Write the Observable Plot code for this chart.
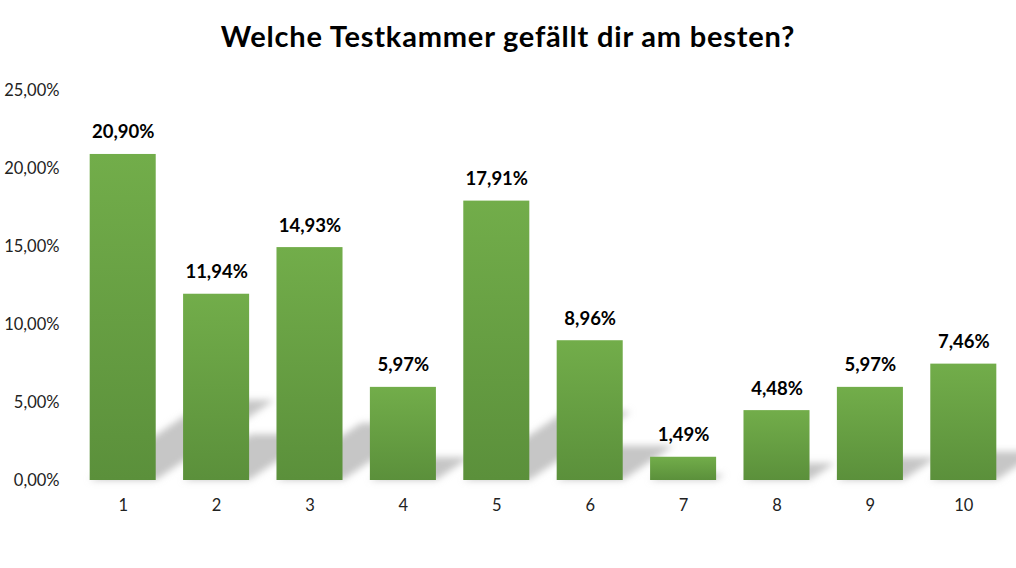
<!DOCTYPE html>
<html>
<head>
<meta charset="utf-8">
<script src="https://cdn.jsdelivr.net/npm/d3@7"></script>
<script src="https://cdn.jsdelivr.net/npm/@observablehq/plot@0.6"></script>
<style>
  html, body { margin: 0; padding: 0; background: #fff; }
  #title {
    width: 1016px; height: 70px; box-sizing: border-box;
    padding-top: 21px; line-height: 30px;
    font-family: Lato, "Open Sans", sans-serif; font-weight: bold;
    font-size: 29px; letter-spacing: 0.8px; text-align: center; color: #000;
  }
</style>
</head>
<body>
<div id="title">Welche Testkammer gefällt dir am besten?</div>
<div id="chart"></div>
<script>
const categories = ["1", "2", "3", "4", "5", "6", "7", "8", "9", "10"];
const values = [20.90, 11.94, 14.93, 5.97, 17.91, 8.96, 1.49, 4.48, 5.97, 7.46];
const yTicks = [0, 5, 10, 15, 20, 25];

const data = categories.map((c, i) => ({cat: c, value: values[i]}));
const fmt = v => v.toFixed(2).replace(".", ",") + "%";

const H = 498, MT = 20, MB = 88;

const chart = Plot.plot({
  width: 1016,
  height: H,
  marginLeft: 76,
  marginRight: 6,
  marginTop: MT,
  marginBottom: MB,
  style: {fontFamily: "Lato, 'Open Sans', sans-serif", fontSize: "16.5px", color: "#222", background: "#fff"},
  x: {domain: categories, paddingInner: 0.293, paddingOuter: 0.1465, round: false, label: null, tickSize: 0, tickPadding: 19},
  y: {domain: [0, 25], ticks: yTicks, tickFormat: fmt, label: null, tickSize: 0, tickPadding: 17},
  marks: [
    Plot.barY(data, {x: "cat", y: "value", fill: "#b8b8b8", fillOpacity: 0.8}),
    Plot.barY(data, {x: "cat", y: "value", fill: "url(#barGrad)"}),
    Plot.text(data, {x: "cat", y: "value", text: d => fmt(d.value), dy: -22, fontWeight: "bold", fontSize: 18.5, fill: "#000"})
  ]
});

// defs: gradient and blur
const ns = "http://www.w3.org/2000/svg";
const defs = document.createElementNS(ns, "defs");
defs.innerHTML = `
  <linearGradient id="barGrad" x1="0" y1="0" x2="0" y2="1">
    <stop offset="0" stop-color="#72ad4a"/>
    <stop offset="1" stop-color="#5b903b"/>
  </linearGradient>
  <filter id="shadowBlur" x="-20%" y="-20%" width="140%" height="140%">
    <feGaussianBlur stdDeviation="3.5"/>
  </filter>`;
chart.insertBefore(defs, chart.firstChild);

// turn the first bar layer into a floor shadow
const bars = chart.querySelectorAll('g[aria-label="bar"]');
if (bars.length) {
  const sh = bars[0];
  const base = H - MB;
  const wrap = document.createElementNS(ns, "g");
  wrap.setAttribute("filter", "url(#shadowBlur)");
  sh.parentNode.insertBefore(wrap, sh);
  wrap.appendChild(sh);
  sh.setAttribute("transform", `translate(0,${base}) skewX(-56) scale(1,0.245) translate(0,${-base})`);
}

document.getElementById("chart").appendChild(chart);
</script>
</body>
</html>
